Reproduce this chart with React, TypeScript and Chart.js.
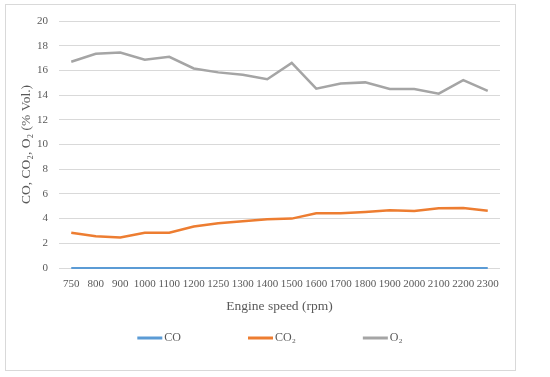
import React, { useEffect, useRef } from "react";
import { Chart, registerables } from "chart.js";

Chart.register(...registerables);

const categories = ["750", "800", "900", "1000", "1100", "1200", "1250", "1300", "1400", "1500", "1600", "1700", "1800", "1900", "2000", "2100", "2200", "2300"];
const coValues = [0, 0, 0, 0, 0, 0, 0, 0, 0, 0, 0, 0, 0, 0, 0, 0, 0, 0];
const co2Values = [2.85, 2.58, 2.47, 2.85, 2.85, 3.36, 3.62, 3.79, 3.95, 4.0, 4.43, 4.43, 4.54, 4.67, 4.62, 4.83, 4.86, 4.64];
const o2Values = [16.7, 17.34, 17.45, 16.86, 17.1, 16.16, 15.84, 15.65, 15.28, 16.6, 14.52, 14.93, 15.03, 14.5, 14.5, 14.12, 15.22, 14.34];
const seriesNames = ["CO", "CO\u2082", "O\u2082"];
const yTitle = "CO, CO\u2082, O\u2082 (% Vol.)";
const xTitle = "Engine speed (rpm)";

const FONT = "'Liberation Serif', 'DejaVu Serif', serif";

const framePlugin = {
  id: "frame",
  beforeDraw(chart: any) {
    const ctx = chart.ctx;
    ctx.save();
    ctx.fillStyle = "#ffffff";
    ctx.fillRect(0, 0, chart.width, chart.height);
    ctx.strokeStyle = "#d9d9d9";
    ctx.lineWidth = 1;
    ctx.strokeRect(5.5, 4.5, 510, 366);
    ctx.restore();
  },
};

const legendPlugin = {
  id: "customLegend",
  afterDraw(chart: any) {
    const ctx = chart.ctx;
    const ds = chart.data.datasets;
    const lineW = 25;
    const gapText = 2;
    const gapItems = 67;
    ctx.save();
    ctx.font = `12px ${FONT}`;
    const widths = ds.map((d: any) => lineW + gapText + ctx.measureText(d.label).width);
    const total = widths.reduce((a: number, b: number) => a + b, 0) + gapItems * (ds.length - 1);
    let x = 270 - total / 2;
    const y = 338;
    ds.forEach((d: any, i: number) => {
      ctx.strokeStyle = d.borderColor;
      ctx.lineWidth = 3;
      ctx.beginPath();
      ctx.moveTo(x, y);
      ctx.lineTo(x + lineW, y);
      ctx.stroke();
      ctx.fillStyle = "#595959";
      ctx.textBaseline = "middle";
      ctx.textAlign = "left";
      ctx.fillText(d.label, x + lineW + gapText, y);
      x += widths[i] + gapItems;
    });
    ctx.restore();
  },
};

export default function App() {
  const ref = useRef<HTMLCanvasElement | null>(null);
  useEffect(() => {
    document.body.style.margin = "0";
    const chart = new Chart(ref.current as HTMLCanvasElement, {
      type: "line",
      data: {
        labels: categories,
        datasets: [
          { label: seriesNames[0], data: coValues, borderColor: "#5b9bd5", backgroundColor: "#5b9bd5", borderWidth: 2, pointRadius: 0, tension: 0, clip: false },
          { label: seriesNames[1], data: co2Values, borderColor: "#ed7d31", backgroundColor: "#ed7d31", borderWidth: 2.5, pointRadius: 0, tension: 0 },
          { label: seriesNames[2], data: o2Values, borderColor: "#a5a5a5", backgroundColor: "#a5a5a5", borderWidth: 2.5, pointRadius: 0, tension: 0 },
        ],
      },
      options: {
        animation: false,
        responsive: false,
        layout: { padding: { left: 18, right: 50, top: 21, bottom: 62 } },
        plugins: {
          tooltip: { enabled: false },
          legend: { display: false },
        },
        scales: {
          x: {
            offset: true,
            grid: { display: false, drawTicks: false },
            border: { display: false },
            ticks: { color: "#595959", font: { family: FONT, size: 11 }, maxRotation: 0, autoSkip: false, padding: 10 },
            title: { display: true, text: xTitle, color: "#595959", font: { family: FONT, size: 13.5 }, padding: { top: 4, bottom: 0 } },
            afterFit: (scale: any) => { scale.height = 47; },
          },
          y: {
            min: 0,
            max: 20,
            ticks: { stepSize: 2, color: "#595959", font: { family: FONT, size: 11 }, padding: 11 },
            grid: { color: "#d9d9d9", drawTicks: false },
            border: { display: false },
            title: { display: true, text: yTitle, color: "#595959", font: { family: FONT, size: 13.5 }, padding: { top: 0, bottom: 6 } },
            afterFit: (scale: any) => { scale.width = 41; },
          },
        },
      },
      plugins: [framePlugin, legendPlugin],
    });
    return () => chart.destroy();
  }, []);
  return <canvas ref={ref} width={550} height={377} style={{ display: "block" }} />;
}
